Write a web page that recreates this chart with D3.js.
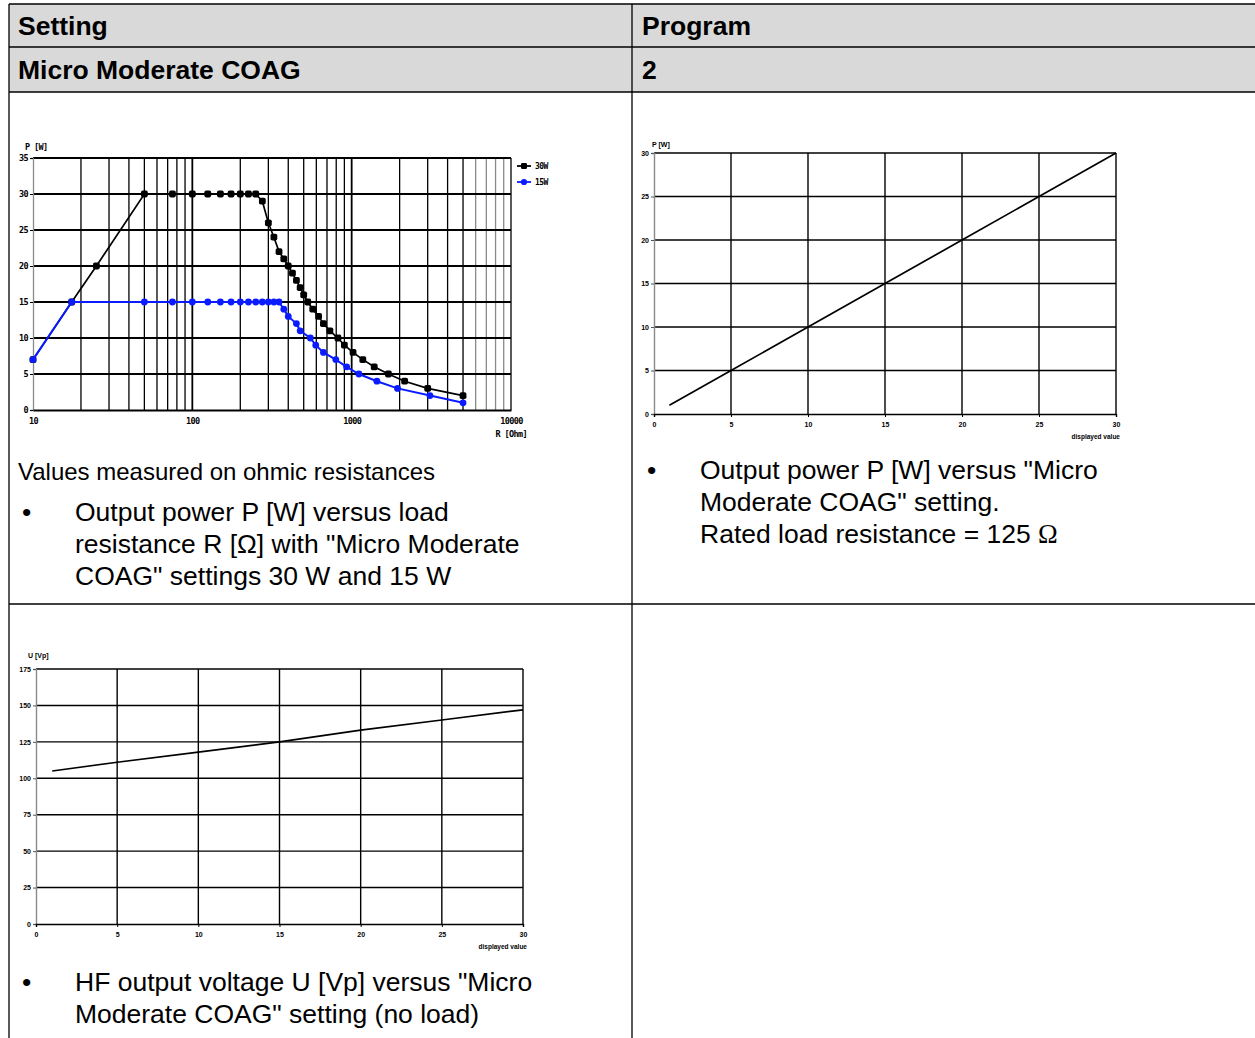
<!DOCTYPE html>
<html><head><meta charset="utf-8">
<script src="https://cdn.jsdelivr.net/npm/d3@7"></script>
<style>
html,body{margin:0;padding:0;background:#fff;}
svg{display:block;}
</style></head>
<body>
<script>
// ---------- DATA ----------
// Chart 1: output power vs load resistance (log R)
const r30 = [10, 17.5, 25, 50, 75, 100, 125, 150, 175, 200, 225, 250, 275, 300, 325, 350, 375, 400, 425, 450, 475, 500, 530, 570, 620, 665, 730, 820, 900, 1020, 1175, 1385, 1700, 2150, 3000, 5000];
const p30 = [7, 15, 20, 30, 30, 30, 30, 30, 30, 30, 30, 30, 29, 26, 24, 22, 21, 20, 19, 18, 17, 16, 15, 14, 13, 12, 11, 10, 9, 8, 7, 6, 5, 4, 3, 2];
const r15 = [10, 17.5, 50, 75, 100, 125, 150, 175, 200, 225, 250, 275, 300, 325, 350, 375, 400, 450, 475, 550, 595, 665, 795, 930, 1110, 1440, 1940, 3100, 5000];
const p15 = [7, 15, 15, 15, 15, 15, 15, 15, 15, 15, 15, 15, 15, 15, 15, 14, 13, 12, 11, 10, 9, 8, 7, 6, 5, 4, 3, 2, 1];
const seriesNames = ["30W", "15W"];
const rTickLabels = [10, 100, 1000, 10000];
const pTicks1 = [0, 5, 10, 15, 20, 25, 30, 35];

// Chart 2: output power vs setting
const setting2 = [1, 5, 10, 15, 20, 25, 30];
const power2 = [1, 5, 10, 15, 20, 25, 30];
const xTicks2 = [0, 5, 10, 15, 20, 25, 30];
const yTicks2 = [0, 5, 10, 15, 20, 25, 30];

// Chart 3: HF output voltage vs setting
const setting3 = [1, 5, 10, 15, 20, 25, 30];
const volt3 = [105, 111, 118, 125, 133, 140, 147];
const xTicks3 = [0, 5, 10, 15, 20, 25, 30];
const yTicks3 = [0, 25, 50, 75, 100, 125, 150, 175];

// ---------- DRAW ----------
const W = 1255, H = 1038;
const svg = d3.select("body").append("svg").attr("width", W).attr("height", H);
const SANS = "'Liberation Sans', Arial, sans-serif";

// Table
svg.append("rect").attr("x", 9).attr("y", 4).attr("width", W - 9 + 5).attr("height", 88).attr("fill", "#d9d9d9");
const tl = svg.append("g").attr("stroke", "#000").attr("stroke-width", 1.3);
[4, 47, 92, 604].forEach(y => tl.append("line").attr("x1", 9).attr("x2", W + 2).attr("y1", y).attr("y2", y));
[9, 632].forEach(x => tl.append("line").attr("x1", x).attr("x2", x).attr("y1", 4).attr("y2", H + 2));

function txt(x, y, s, opts = {}) {
  const t = svg.append("text").attr("x", x).attr("y", y)
    .attr("font-family", opts.family || SANS)
    .attr("font-size", opts.size || 26.5)
    .attr("font-weight", opts.weight || "normal")
    .attr("fill", "#000")
    .attr("text-anchor", opts.anchor || "start")
    .text(s);
  if (opts.ls !== undefined) t.attr("letter-spacing", opts.ls);
  return t;
}
txt(18, 35, "Setting", {weight: "bold"});
txt(642, 35, "Program", {weight: "bold"});
txt(18, 79, "Micro Moderate COAG", {weight: "bold"});
txt(642, 79, "2", {weight: "bold"});

txt(18, 480, "Values measured on ohmic resistances", {size: 24});
txt(22, 521, "•");
txt(75, 521, "Output power P [W] versus load");
txt(75, 553, "resistance R [Ω] with \"Micro Moderate");
txt(75, 585, "COAG\" settings 30 W and 15 W");

txt(647, 479, "•");
txt(700, 479, "Output power P [W] versus \"Micro");
txt(700, 511, "Moderate COAG\" setting.");
const rt = txt(700, 543, "Rated load resistance = 125 ");
rt.append("tspan").attr("font-family", "'Liberation Serif', 'Times New Roman', serif").text("Ω");

txt(22, 991, "•");
txt(75, 991, "HF output voltage U [Vp] versus \"Micro");
txt(75, 1023, "Moderate COAG\" setting (no load)");

// ---------- Chart 1 ----------
(function () {
  const MONO = "'DejaVu Sans Mono', 'Liberation Mono', monospace";
  const FS = 8.5, LS = -0.6;
  const x = d3.scaleLog().domain([10, 10000]).range([33, 511]);
  const y = d3.scaleLinear().domain([0, 35]).range([410, 158]);
  const g = svg.append("g");
  // vertical grid (log)
  const gridR = x.ticks().filter(v => v > 10);
  g.append("g").selectAll("line").data(gridR).join("line")
    .attr("x1", d => x(d)).attr("x2", d => x(d))
    .attr("y1", y(0)).attr("y2", y(35))
    .attr("stroke", d => (d > 5000 && d < 10000) ? "#8a8a8a" : "#000")
    .attr("stroke-width", d => (d === 100 || d === 1000) ? 1.8 : 1.3);
  // horizontal grid
  g.append("g").selectAll("line").data(pTicks1.filter(v => v > 0)).join("line")
    .attr("x1", x(10)).attr("x2", x(10000))
    .attr("y1", d => y(d)).attr("y2", d => y(d))
    .attr("stroke", "#000").attr("stroke-width", 1.8);
  // y axis
  const ya = g.append("g").attr("transform", `translate(${x(10)},0)`)
    .call(d3.axisLeft(y).tickValues(pTicks1).tickSize(3).tickPadding(2));
  ya.select(".domain").attr("stroke", "#8a8a8a").attr("stroke-width", 1.3);
  ya.selectAll("text").attr("font-family", MONO).attr("font-weight", "bold").attr("font-size", FS).attr("letter-spacing", LS).attr("fill", "#000");
  // x axis
  const xa = g.append("g").attr("transform", `translate(0,${y(0)})`)
    .call(d3.axisBottom(x).tickValues(rTickLabels).tickFormat(d3.format("d")).tickSize(0).tickPadding(8));
  xa.select(".domain").attr("stroke", "#000").attr("stroke-width", 1.8);
  xa.selectAll("text").attr("font-family", MONO).attr("font-weight", "bold").attr("font-size", FS).attr("letter-spacing", LS).attr("fill", "#000");
  txt(25, 150, "P [W]", {family: MONO, weight: "bold", size: FS, ls: LS});
  txt(527, 437, "R [Ohm]", {family: MONO, weight: "bold", size: FS, anchor: "end", ls: LS});

  const line = d3.line().x(d => x(d[0])).y(d => y(d[1]));
  const d30 = r30.map((r, i) => [r, p30[i]]);
  const d15 = r15.map((r, i) => [r, p15[i]]);
  g.append("path").datum(d30).attr("d", line).attr("fill", "none").attr("stroke", "#000").attr("stroke-width", 1.7);
  g.append("g").selectAll("rect").data(d30).join("rect")
    .attr("x", d => x(d[0]) - 3.4).attr("y", d => y(d[1]) - 3.4)
    .attr("width", 6.8).attr("height", 6.8).attr("rx", 1.8).attr("fill", "#000");
  const BLUE = "#0a1cff";
  g.append("path").datum(d15).attr("d", line).attr("fill", "none").attr("stroke", BLUE).attr("stroke-width", 2);
  g.append("g").selectAll("circle").data(d15).join("circle")
    .attr("cx", d => x(d[0])).attr("cy", d => y(d[1])).attr("r", 3.4).attr("fill", BLUE);

  // legend
  const lg = g.append("g");
  seriesNames.forEach((n, i) => {
    const ly = 166 + i * 16;
    const col = i === 0 ? "#000" : BLUE;
    lg.append("line").attr("x1", 517).attr("x2", 531).attr("y1", ly).attr("y2", ly).attr("stroke", col).attr("stroke-width", 1.8);
    if (i === 0) lg.append("rect").attr("x", 521).attr("y", ly - 3).attr("width", 6).attr("height", 6).attr("rx", 1.3).attr("fill", col);
    else lg.append("circle").attr("cx", 524).attr("cy", ly).attr("r", 3.1).attr("fill", col);
    txt(535, ly + 3, n, {family: MONO, weight: "bold", size: 8, ls: -0.6});
  });
})();

// ---------- generic linear chart ----------
function linChart(cfg) {
  const x = d3.scaleLinear().domain([0, 30]).range([cfg.x0, cfg.x1]);
  const y = d3.scaleLinear().domain(cfg.yDomain).range([cfg.y0, cfg.y1]);
  const g = svg.append("g");
  g.append("g").selectAll("line").data(cfg.xTicks.filter(v => v > 0)).join("line")
    .attr("x1", d => x(d)).attr("x2", d => x(d)).attr("y1", cfg.y0).attr("y2", cfg.y1)
    .attr("stroke", "#000").attr("stroke-width", 1.4);
  g.append("g").selectAll("line").data(cfg.yTicks.filter(v => v > cfg.yDomain[0])).join("line")
    .attr("x1", cfg.x0).attr("x2", cfg.x1).attr("y1", d => y(d)).attr("y2", d => y(d))
    .attr("stroke", "#000").attr("stroke-width", 1.4);
  const ya = g.append("g").attr("transform", `translate(${cfg.x0},0)`)
    .call(d3.axisLeft(y).tickValues(cfg.yTicks).tickSize(3).tickPadding(2));
  ya.select(".domain").attr("stroke", "#8a8a8a").attr("stroke-width", 1.4);
  ya.selectAll(".tick line").attr("stroke", "#555");
  ya.selectAll("text").attr("font-family", SANS).attr("font-weight", "bold").attr("font-size", 7).attr("fill", "#000");
  const xa = g.append("g").attr("transform", `translate(0,${cfg.y0})`)
    .call(d3.axisBottom(x).tickValues(cfg.xTicks).tickSize(3).tickPadding(5));
  xa.select(".domain").attr("stroke", "#000").attr("stroke-width", 1.4);
  xa.selectAll("text").attr("font-family", SANS).attr("font-weight", "bold").attr("font-size", 7).attr("fill", "#000");
  txt(cfg.x1 + 4, cfg.y0 + 25, "displayed value", {weight: "bold", size: 6.5, anchor: "end"});
  txt(cfg.labelX, cfg.labelY, cfg.yLabel, {weight: "bold", size: 7});
  const data = cfg.xs.map((v, i) => [v, cfg.ys[i]]);
  g.append("path").datum(data).attr("d", d3.line().x(d => x(d[0])).y(d => y(d[1])))
    .attr("fill", "none").attr("stroke", "#000").attr("stroke-width", 1.7);
}

linChart({x0: 654, x1: 1116, y0: 414, y1: 153, yDomain: [0, 30], xTicks: xTicks2, yTicks: yTicks2,
  xs: setting2, ys: power2, yLabel: "P [W]", labelX: 652, labelY: 147});
linChart({x0: 36, x1: 523, y0: 924, y1: 669, yDomain: [0, 175], xTicks: xTicks3, yTicks: yTicks3,
  xs: setting3, ys: volt3, yLabel: "U [Vp]", labelX: 28, labelY: 658});
</script>
</body></html>
